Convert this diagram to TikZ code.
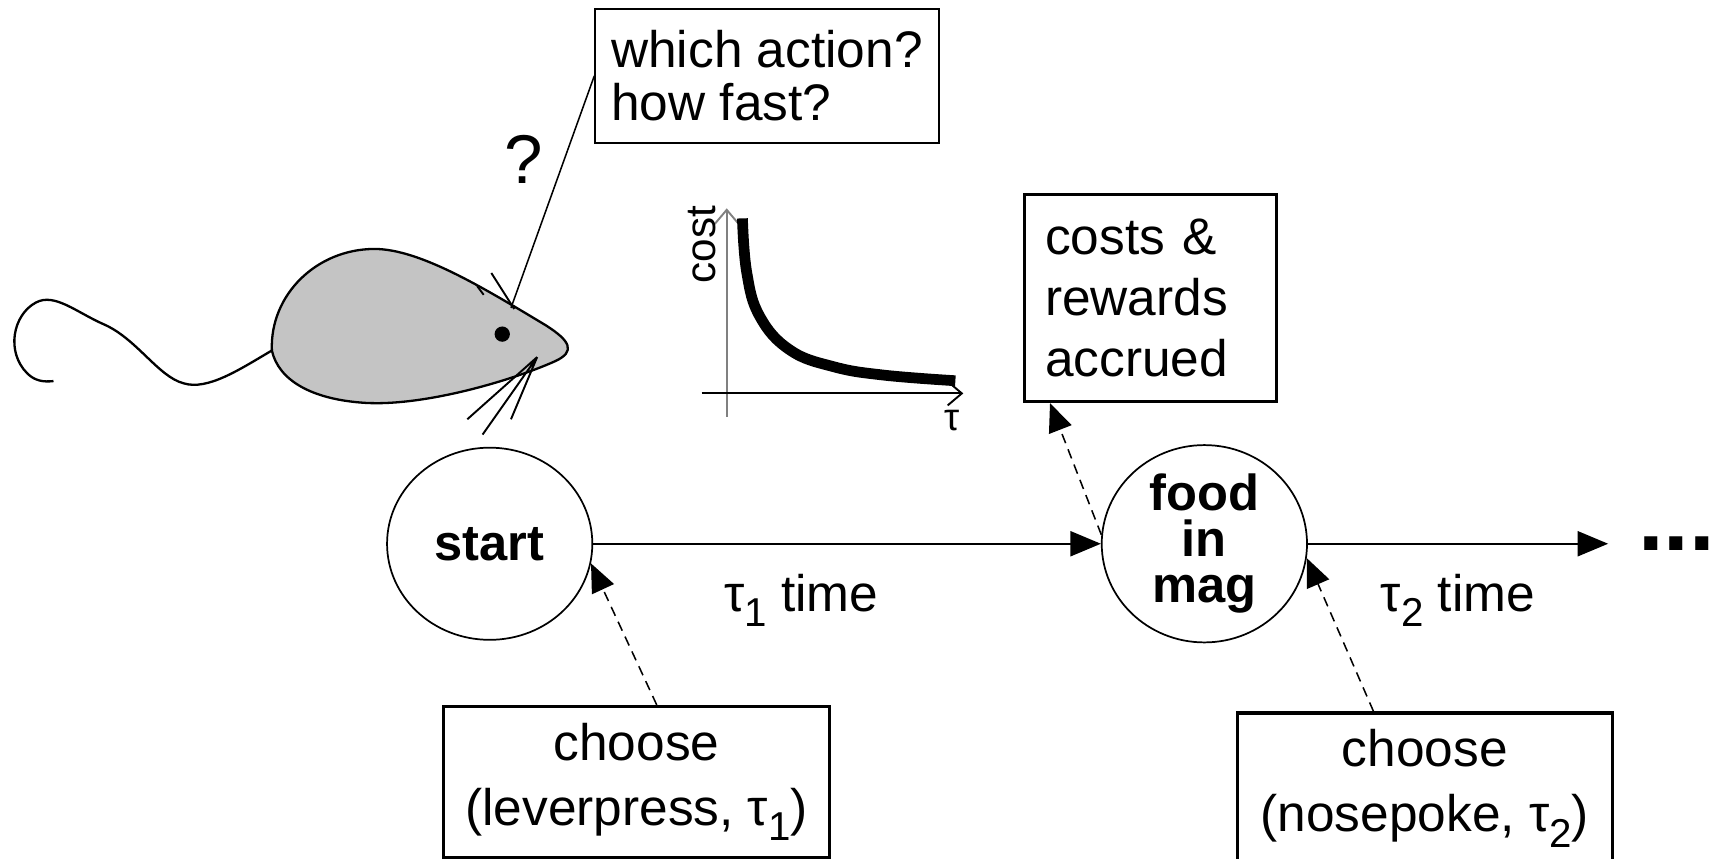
\documentclass[tikz,border=0pt]{standalone}
\usepackage{fontspec}
\setmainfont{Liberation Sans}
\usetikzlibrary{arrows.meta,positioning,shapes.geometric}
\definecolor{mouse}{gray}{0.77}
\definecolor{axisgray}{gray}{0.5}
% lowered index after tau
\newcommand\lowidx[1]{\raisebox{-0.3em}{\fontsize{10.5}{10.5}\selectfont #1}}

\begin{document}
\begin{tikzpicture}[x=0.1mm,y=-0.1mm,
    txt/.style={font=\fontsize{13.4}{14}\selectfont},
    infobox/.style={draw,inner sep=0pt,line width=0.8pt},
    event/.style={draw,ellipse,line width=0.45pt,minimum width=18.8mm,minimum height=17.6mm,
      inner sep=0pt,align=center,font=\fontsize{13.2}{12}\selectfont\bfseries},
    flow/.style={line width=0.5pt,-{Triangle[length=2.8mm,width=2.3mm]}},
    choice/.style={line width=0.4pt,dash pattern=on 0.9mm off 0.6mm,-{Triangle[length=2.6mm,width=2.2mm]}},
    axis/.style={line width=0.5pt,-{Straight Barb[length=1.3mm,width=2.2mm]}}]
  \useasboundingbox (0,0) rectangle (1568,786);
  \clip (0,0) rectangle (1568,786);

  % the rat
  \draw[line width=0.6pt] (249,321) .. controls (220,338) and (190,358) .. (168,351)
    .. controls (145,345) and (125,310) .. (95,297)
    .. controls (70,286) and (50,268) .. (33,277)
    .. controls (12,288) and (5,322) .. (25,342)
    .. controls (32,349) and (40,350) .. (49,349);
  \filldraw[fill=mouse,line width=0.6pt] (249,321) .. controls (247,270) and (290,228) .. (343,228)
    .. controls (385,228) and (445,265) .. (500,298)
    .. controls (522,312) and (528,322) .. (508,331)
    .. controls (470,348) and (390,372) .. (335,369)
    .. controls (285,366) and (255,348) .. cycle;
  \fill (460,306) circle (0.7mm);
  \draw[line width=0.5pt] (492,327) -- (428,384) (492,327) -- (442,398) (492,327) -- (468,384);
  \draw[line width=0.5pt] (450,250) -- (471,283) (437,262) -- (443,270);
  \coordinate (head) at (468,282);

  % question
  \node[font=\fontsize{18}{18}\selectfont] (qmark) at (480,146) {?};
  \node[infobox,line width=0.4pt,align=left,inner xsep=1.4mm,minimum width=31.5mm,minimum height=12.3mm,
    font=\fontsize{13.4}{13.8}\selectfont] (which) at (702.5,69.5) {which action?\\how fast?};
  \draw[line width=0.4pt] (which.west) -- (head);

  % cost curve
  \draw[axis,axisgray] (665.6,381.6) -- (665.6,190.8);
  \draw[axis] (642.7,360.3) -- (882.3,360.3);
  \draw[line width=2.8pt] plot[smooth,tension=0.7] coordinates
    {(680,200) (684,250) (696,290) (723.6,320.6) (763.3,335.8) (809,343.5) (875,348.7)};
  \node[font=\fontsize{11}{11}\selectfont,rotate=90] (costlbl) at (643,224) {cost};
  \node[font=\fontsize{10}{10}\selectfont] (taulbl) at (872,385) {τ};

  \node[infobox,align=left,text width=19.3mm,inner xsep=1.9mm,minimum height=19mm,
    font=\fontsize{13.4}{15.8}\selectfont] (accrued) at (1053.6,272.8) {costs \&\\rewards\\accrued};

  % states
  \node[event] (start) at (448.5,498) {start};
  \node[event,right=46.5mm of start] (food) {food\\in\\mag};
  \node[right=27.5mm of food,inner xsep=2.7mm,inner ysep=0pt,
    font=\fontsize{24}{24}\selectfont\bfseries] (dots) {...};

  \draw[flow] (start) -- (food) node[txt,below=1.5mm,pos=0.41] (t1) {τ\lowidx{1} time};
  \draw[flow] (food) -- (dots.west) node[txt,below=1.5mm,pos=0.5] (t2) {τ\lowidx{2} time};

  % choices
  \node[infobox,align=center,minimum width=35.4mm,minimum height=13.8mm,
    font=\fontsize{13.4}{16.9}\selectfont] (pressbox) at (583,716) {choose\\(leverpress, τ\lowidx{1})};
  \node[infobox,align=center,minimum width=34.4mm,minimum height=13.8mm,
    font=\fontsize{13.4}{16.9}\selectfont] (pokebox) at (1305,722) {choose\\(nosepoke, τ\lowidx{2})};

  \draw[choice] ([xshift=1.85mm]pressbox.north) -- (start.-11);
  \draw[choice] ([xshift=-4.7mm]pokebox.north) -- (food.-8);
  \draw[choice] (food.175) -- ([xshift=2.5mm]accrued.south west);
\end{tikzpicture}
\end{document}
